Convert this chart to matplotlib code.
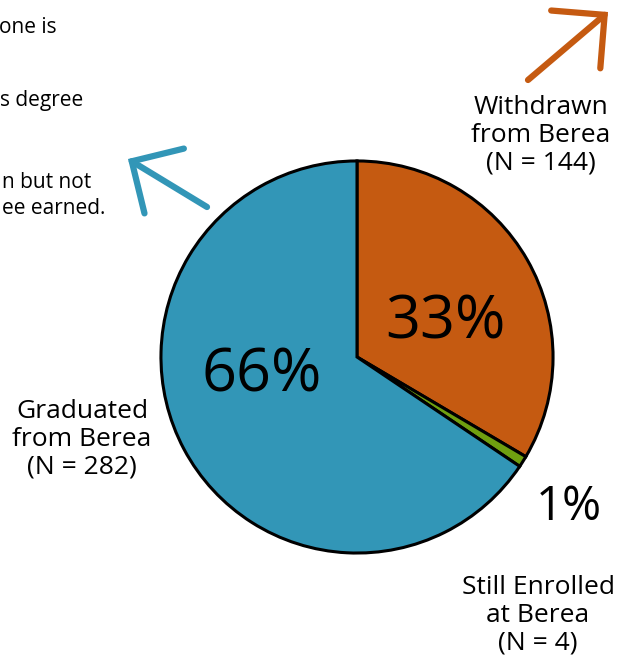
"""Berea outcomes pie"""

from matplotlib import pyplot as plt
from matplotlib.patches import FancyArrowPatch

plt.rcParams['font.family'] = ['Open Sans', 'DejaVu Sans']

labels = ['Withdrawn\nfrom Berea', 'Still Enrolled\nat Berea', 'Graduated\nfrom Berea']
counts = [144, 4, 282]
colors = ['#C55A11', '#6F9F10', '#3296B7']
side_text = ['one is', 's degree', 'n but not\nee earned.']

W, H = 618, 662
fig = plt.figure(figsize=(W / 100, H / 100), dpi=100)

def fx(x):
    return x / W

def fy(y):
    return 1 - y / H

# pie: centre ~ (357, 357) px, radius ~198 px
cx, cy, r = 357, 357, 198
ax = fig.add_axes([fx(cx - r), fy(cy + r), 2 * r / W, 2 * r / H])
ax.pie(counts, colors=colors, startangle=90, counterclock=False,
       wedgeprops=dict(edgecolor='black', linewidth=2.2), radius=1.0)
ax.set_xlim(-1.01, 1.01)
ax.set_ylim(-1.01, 1.01)
ax.set_aspect('equal')
ax.axis('off')

total = sum(counts)
pct = [round(c / total * 100) for c in counts]

# percentages
fig.text(fx(445), fy(322), '%d%%' % pct[0], fontsize=44, ha='center', va='center')
fig.text(fx(569), fy(507), '%d%%' % pct[1], fontsize=34, ha='center', va='center')
fig.text(fx(262), fy(375), '%d%%' % pct[2], fontsize=44, ha='center', va='center')

# category labels
fig.text(fx(541), fy(135), '%s\n(N = %d)' % (labels[0], counts[0]), fontsize=19,
         ha='center', va='center', linespacing=1.15)
fig.text(fx(538), fy(615), '%s\n(N = %d)' % (labels[1], counts[1]), fontsize=19,
         ha='center', va='center', linespacing=1.15)
fig.text(fx(82), fy(439), '%s\n(N = %d)' % (labels[2], counts[2]), fontsize=19,
         ha='center', va='center', linespacing=1.15)

# cropped side notes (the left side of the original is cut off)
fig.text(fx(-1), fy(33), side_text[0], fontsize=15, ha='left', va='baseline')
fig.text(fx(0), fy(106), side_text[1], fontsize=15, ha='left', va='baseline')
fig.text(fx(2), fy(214), side_text[2], fontsize=15, ha='left', va='baseline',
         linespacing=1.3)

# arrows
arrow = '->, head_length=0.39, head_width=0.39'
fig.add_artist(FancyArrowPatch(
    (fx(528), fy(80)), (fx(608), fy(12)), transform=fig.transFigure,
    arrowstyle=arrow, mutation_scale=70, color=colors[0], lw=4.5,
    shrinkA=0, shrinkB=0, capstyle='round', joinstyle='miter'))
fig.add_artist(FancyArrowPatch(
    (fx(207), fy(207)), (fx(128), fy(159)), transform=fig.transFigure,
    arrowstyle=arrow, mutation_scale=70, color=colors[2], lw=4.5,
    shrinkA=0, shrinkB=0, capstyle='round', joinstyle='miter'))

fig.savefig('out.png', dpi=100)
